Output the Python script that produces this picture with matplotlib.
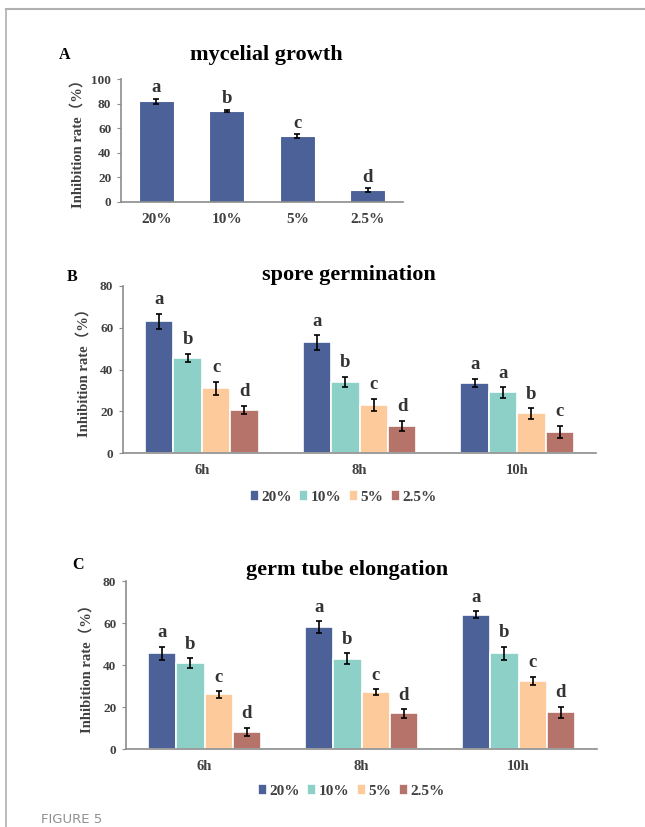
import numpy as np
import matplotlib
matplotlib.use("Agg")
import matplotlib.pyplot as plt
from matplotlib.lines import Line2D

plt.rcParams['font.family'] = ['Liberation Serif', 'Noto Sans CJK SC']
plt.rcParams['font.weight'] = 'bold'

# panel A - mycelial growth
conc = ["20%", "10%", "5%", "2.5%"]
myc_val = [82, 74, 53.5, 9.5]
myc_err = [2, 1, 1.5, 1.5]
myc_let = ["a", "b", "c", "d"]

# panel B - spore germination
times = ["6h", "8h", "10h"]
spore_val = [[63, 53, 33.5],
             [45.5, 34, 29],
             [31, 23, 19],
             [20.5, 13, 10]]
spore_err = [[3.8, 3.5, 2],
             [2, 2.5, 2.5],
             [3.2, 3, 2.5],
             [2, 2.5, 3]]
spore_let = [["a", "a", "a"],
             ["b", "b", "a"],
             ["c", "c", "b"],
             ["d", "d", "c"]]

# panel C - germ tube elongation
germ_val = [[45.5, 58, 64],
            [41, 43, 45.5],
            [26, 27, 32.5],
            [8, 17, 17.5]]
germ_err = [[3.2, 2.8, 1.5],
            [2.2, 2.5, 3.2],
            [1.5, 1.5, 2],
            [2, 2, 2.5]]
germ_let = [["a", "a", "a"],
            ["b", "b", "b"],
            ["c", "c", "c"],
            ["d", "d", "d"]]

colors = ["#4B6198", "#8DD0C7", "#FDCB9B", "#B5736A"]
axis_gray = "#8c8c8c"
tick_col = "#404040"
ylab = "Inhibition rate（%）"

fig = plt.figure(figsize=(6.45, 8.27), dpi=100)

# page frame lines
fig.add_artist(Line2D([6/645, 6/645], [0, 1 - 9/827], color="#b0b0b0", lw=1.2))
fig.add_artist(Line2D([6/645, 1], [1 - 9/827, 1 - 9/827], color="#b0b0b0", lw=1.5))
fig.text(41/645, 1 - 813/827, "FIGURE 5", family="DejaVu Sans", fontweight="normal",
         color="#909090", fontsize=9.5, va="top", ha="left")


def style(ax, ymax, step, xsize):
    for s in ["top", "right"]:
        ax.spines[s].set_visible(False)
    ax.spines["left"].set_color(axis_gray)
    ax.spines["bottom"].set_color(axis_gray)
    ax.spines["left"].set_linewidth(1.2)
    ax.spines["bottom"].set_linewidth(1.2)
    ax.set_ylim(0, ymax)
    ax.set_yticks(np.arange(0, ymax + 1, step))
    ax.tick_params(axis="y", length=3, color=axis_gray, labelsize=9.5, labelcolor=tick_col, pad=4)
    ax.tick_params(axis="x", length=0, labelsize=xsize, labelcolor=tick_col, pad=8)
    for lab in ax.get_yticklabels() + ax.get_xticklabels():
        lab.set_fontweight("bold")


# ---- A ----
axA = fig.add_axes([121/645, 1 - 202/827, 282/645, 123/827])
x = np.arange(len(conc))
axA.bar(x, myc_val, width=0.5, color=colors[0], edgecolor="white", linewidth=0.8)
axA.errorbar(x, myc_val, yerr=myc_err, fmt="none", ecolor="black", elinewidth=1.2, capsize=2.5, capthick=1.2)
for xi, v, e, l in zip(x, myc_val, myc_err, myc_let):
    axA.annotate(l, (xi, v + e), xytext=(0, 2), textcoords="offset points",
                 ha="center", va="bottom", fontsize=13.5, fontweight="bold", color="#333333")
axA.set_xlim(-0.5, 3.5)
axA.set_xticks(x)
axA.set_xticklabels(conc)
style(axA, 100, 20, 11)
axA.set_ylabel(ylab, fontsize=10.5, fontweight="bold", color=tick_col, labelpad=5)
fig.text(266/645, 1 - 55/827, "mycelial growth", ha="center", va="center", fontsize=16, fontweight="bold")
fig.text(65/645, 1 - 55/827, "A", ha="center", va="center", fontsize=11.5, fontweight="bold")


def grouped(rect, vals, errs, lets, title, tpos, label, lpos, legy):
    ax = fig.add_axes(rect)
    g = np.arange(len(times))
    w = 0.18
    for i in range(len(conc)):
        xs = g + (i - 1.5) * w
        ax.bar(xs, vals[i], width=w, color=colors[i], edgecolor="white", linewidth=1.2, label=conc[i])
        ax.errorbar(xs, vals[i], yerr=errs[i], fmt="none", ecolor="black", elinewidth=1.2,
                    capsize=2.5, capthick=1.2)
        for xi, v, e, l in zip(xs, vals[i], errs[i], lets[i]):
            ax.annotate(l, (xi, v + e), xytext=(0, 4), textcoords="offset points",
                        ha="center", va="bottom", fontsize=13.5, fontweight="bold", color="#333333")
    ax.set_xlim(-0.5, 2.5)
    ax.set_xticks(g)
    ax.set_xticklabels(times)
    style(ax, 80, 20, 10.5)
    ax.set_ylabel(ylab, fontsize=10.5, fontweight="bold", color=tick_col, labelpad=7)
    fig.text(tpos[0]/645, 1 - tpos[1]/827, title, ha="center", va="center", fontsize=16, fontweight="bold")
    fig.text(lpos[0]/645, 1 - lpos[1]/827, label, ha="center", va="center", fontsize=11.5, fontweight="bold")
    leg = ax.legend(loc="center", bbox_to_anchor=(lpos[2], legy), bbox_transform=fig.transFigure,
                    ncol=4, frameon=False, fontsize=11, handlelength=0.6, handleheight=0.7,
                    handletextpad=0.15, columnspacing=0.5)
    for t in leg.get_texts():
        t.set_fontweight("bold")
        t.set_color(tick_col)
    return ax


grouped([123/645, 1 - 453/827, 473/645, 167/827], spore_val, spore_err, spore_let,
        "spore germination", (349, 275), "B", (72, 277, 343/645), 1 - 497/827)
grouped([126/645, 1 - 749/827, 471/645, 168/827], germ_val, germ_err, germ_let,
        "germ tube elongation", (347, 570), "C", (78, 565, 351/645), 1 - 791/827)

fig.savefig("out.png", dpi=100)
